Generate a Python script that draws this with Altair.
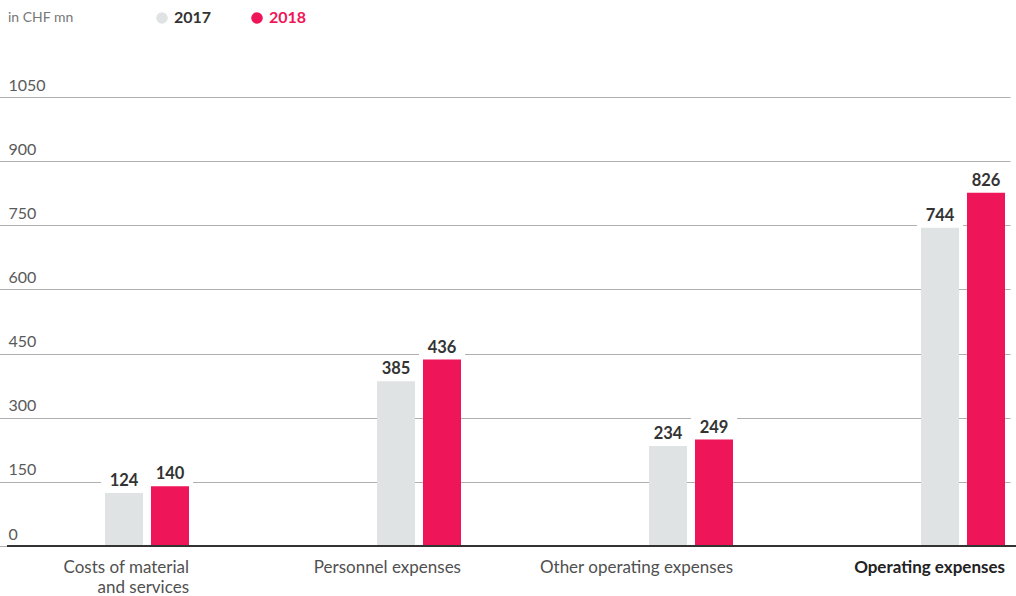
import altair as alt
import pandas as pd

categories = ["Costs of material and services", "Personnel expenses",
              "Other operating expenses", "Operating expenses"]
years = ["2017", "2018"]
values_2017 = [124, 385, 234, 744]
values_2018 = [140, 436, 249, 826]
y_ticks = [0, 150, 300, 450, 600, 750, 900, 1050]
colors = ["#e0e3e3", "#ee1558"]
unit_label = "in CHF mn"

rows = []
for c, v1, v2 in zip(categories, values_2017, values_2018):
    rows.append({"category": c, "year": "2017", "value": v1})
    rows.append({"category": c, "year": "2018", "value": v2})
df = pd.DataFrame(rows)

FONT = "Lato"

x_enc = alt.X(
    "category:N", sort=categories,
    scale=alt.Scale(range=[-85, 1003], paddingInner=0, paddingOuter=0),
    axis=alt.Axis(
        title=None, domain=False, ticks=False, grid=False, labelAngle=0,
        labelAlign="right", labelBaseline="top", labelOffset=131, labelPadding=13,
        labelFont=FONT, labelFontSize=17, labelLimit=0, labelLineHeight=20,
        labelColor={"condition": {"test": "datum.value == 'Operating expenses'", "value": "#222222"}, "value": "#505050"},
        labelFontWeight={"condition": {"test": "datum.value == 'Operating expenses'", "value": "bold"}, "value": "normal"},
        labelExpr="datum.value == 'Costs of material and services' ? ['Costs of material', 'and services'] : datum.label",
    ),
)
xo_enc = alt.XOffset("year:N", sort=years,
                     scale=alt.Scale(range=[183, 267], paddingInner=0.174, paddingOuter=0))
y_axis = alt.Axis(
    values=y_ticks, format="d", title=None, domain=False, ticks=False, tickSize=0,
    labelAlign="left", labelBaseline="alphabetic", labelPadding=-1, labelOffset=-7,
    labelFont=FONT, labelFontSize=16, labelColor="#5a5a5a",
    labelFlush=False, labelOverlap=False,
    gridColor="#b0b0b0", gridWidth=1,
)
y_scale = alt.Scale(domain=[0, 1050], nice=False, zero=True)
y_enc = alt.Y("value:Q", scale=y_scale, axis=y_axis)

base = alt.Chart(df)

boxes = base.transform_calculate(top="datum.value + 55").mark_bar(
    width=46, color="white"
).encode(x=x_enc, xOffset=xo_enc, y=y_enc, y2="top:Q")

bars = base.mark_bar().encode(
    x=x_enc, xOffset=xo_enc, y=y_enc,
    color=alt.Color("year:N", scale=alt.Scale(domain=years, range=colors), legend=None),
)

labels = base.mark_text(
    font=FONT, fontSize=16.5, fontWeight="bold", color="#333333",
    baseline="bottom", dy=-4,
).encode(x=x_enc, xOffset=xo_enc, y=y_enc, text="value:Q")

baseline = base.mark_rule(color="#333333", strokeWidth=2).encode(
    y=alt.Y(datum=0, scale=y_scale, axis=y_axis)
)

unit = alt.Chart(pd.DataFrame({"t": [unit_label]})).mark_text(
    font=FONT, fontSize=14, color="#777777", align="left", baseline="middle"
).encode(x=alt.value(1), y=alt.value(-79), text="t:N")

legend_layers = []
leg_x = [155, 250]
text_colors = ["#333333", colors[1]]
for yr, col, lx, tc in zip(years, colors, leg_x, text_colors):
    ld = pd.DataFrame({"year": [yr]})
    legend_layers.append(
        alt.Chart(ld).mark_circle(size=135, color=col, opacity=1)
        .encode(x=alt.value(lx), y=alt.value(-79))
    )
    legend_layers.append(
        alt.Chart(ld).mark_text(font=FONT, fontSize=16, fontWeight="bold", color=tc,
                                align="left", baseline="middle")
        .encode(x=alt.value(lx + 12), y=alt.value(-79), text="year:N")
    )

chart = alt.layer(boxes, bars, labels, baseline, unit, *legend_layers).properties(
    width=1009, height=449,
    autosize=alt.AutoSizeParams(type="none"),
    padding={"left": 7, "top": 97, "right": 0, "bottom": 50},
    background="white",
).configure_view(stroke=None)

chart.save("out.html", embed_options={"renderer": "svg", "actions": False})
